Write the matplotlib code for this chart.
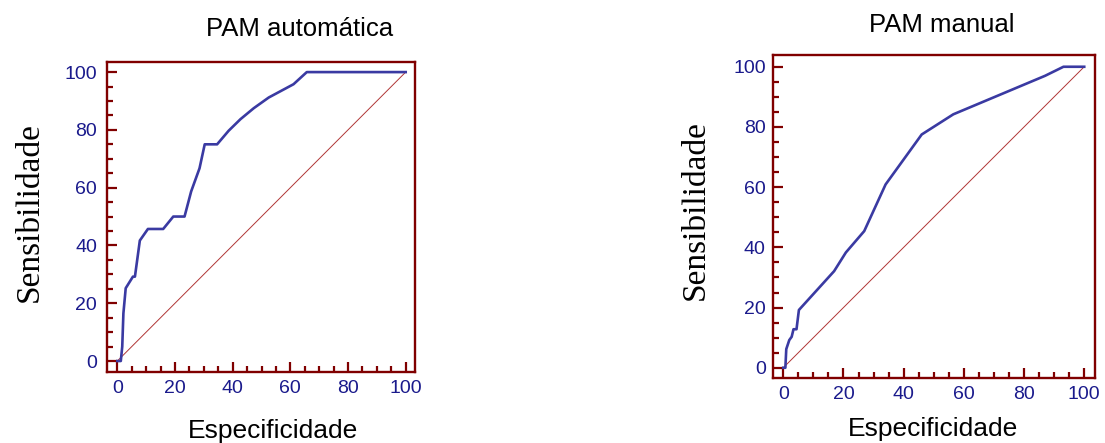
import matplotlib
matplotlib.use("Agg")
import matplotlib.pyplot as plt
from matplotlib.ticker import MultipleLocator

# ROC curve, PAM automatica (1 - specificity % vs sensitivity %)
auto_x = [0, 1.2, 1.7, 2.1, 2.9, 5.4, 6.1, 7.8, 10.6, 15.9, 19.4, 23.3, 25.6, 28.5,
          30.3, 34.6, 38.6, 42.7, 47.3, 52.5, 61.1, 65.7, 100]
auto_y = [0, 0, 5, 16.5, 25.2, 29.2, 29.2, 41.7, 45.7, 45.7, 50, 50, 58.7, 66.7,
          75, 75, 79.7, 83.7, 87.5, 91.2, 95.8, 100, 100]

# ROC curve, PAM manual
man_x = [0, 0.7, 1.0, 2.0, 2.8, 3.4, 4.4, 5.2, 16.9, 20.8, 26.9, 34.0, 46.0, 56.5,
         87.0, 93.1, 100]
man_y = [0, 0, 6.2, 9.2, 10.3, 12.8, 12.8, 19.2, 32.1, 38.3, 45.4, 60.9, 77.5, 84.2,
         97.0, 100, 100]

diag = [0, 100]

frame_col = "#800000"
label_col = "#1a1a8c"
curve_col = "#3a3aa2"
diag_col = "#b03535"

fig = plt.figure(figsize=(11.05, 4.43), dpi=100)

def roc_panel(pos, xs, ys, xlim, ylim, ypad):
    ax = fig.add_axes(pos)
    ax.plot(diag, diag, color=diag_col, lw=0.7, zorder=2)
    ax.plot(xs, ys, color=curve_col, lw=1.9, zorder=3)
    ax.set_xlim(*xlim)
    ax.set_ylim(*ylim)
    ax.xaxis.set_major_locator(MultipleLocator(20))
    ax.yaxis.set_major_locator(MultipleLocator(20))
    ax.xaxis.set_minor_locator(MultipleLocator(5))
    ax.yaxis.set_minor_locator(MultipleLocator(5))
    ax.tick_params(which="both", direction="in", color=frame_col, width=1.6)
    ax.tick_params(which="major", length=7.5)
    ax.tick_params(which="minor", length=4.5)
    ax.tick_params(axis="x", which="major", pad=6, labelsize=14, labelcolor=label_col)
    ax.tick_params(axis="y", which="major", pad=ypad, labelsize=14, labelcolor=label_col)
    for lab in ax.get_xticklabels() + ax.get_yticklabels():
        lab.set_fontfamily("Liberation Sans")
    for s in ax.spines.values():
        s.set_color(frame_col)
        s.set_linewidth(1.7)
    return ax

roc_panel([0.0968, 0.1603, 0.2787, 0.6998], auto_x, auto_y, (-3.6, 103.2), (-3.8, 103.5), 7)
roc_panel([0.6993, 0.1474, 0.2917, 0.7284], man_x, man_y, (-3.5, 103.6), (-3.3, 103.9), 5)

# titles and axis labels
fig.text(300 / 1105, 1 - 29 / 443, "PAM automática", ha="center", va="center",
         fontsize=18.5, family="Liberation Sans")
fig.text(942 / 1105, 1 - 25 / 443, "PAM manual", ha="center", va="center",
         fontsize=18.5, family="Liberation Sans")
fig.text(273 / 1105, 1 - 431 / 443, "Especificidade", ha="center", va="center",
         fontsize=19, family="Liberation Sans")
fig.text(933 / 1105, 1 - 429 / 443, "Especificidade", ha="center", va="center",
         fontsize=19, family="Liberation Sans")
fig.text(30 / 1105, 1 - 212 / 443, "Sensibilidade", ha="center", va="center",
         rotation=90, fontsize=24, family="Liberation Serif")
fig.text(695 / 1105, 1 - 210 / 443, "Sensibilidade", ha="center", va="center",
         rotation=90, fontsize=24, family="Liberation Serif")

fig.savefig("out.png", dpi=100)
